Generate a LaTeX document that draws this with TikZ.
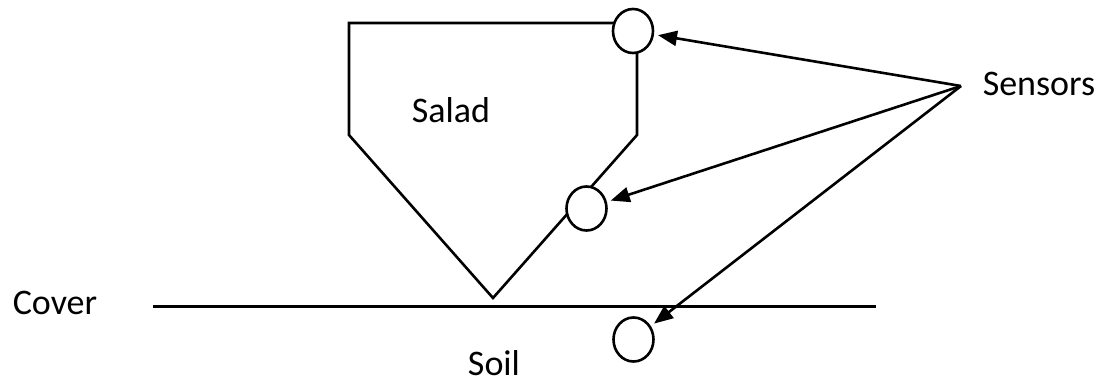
\documentclass[tikz,border=0pt]{standalone}
\usepackage{fontspec}
\setmainfont{Carlito}
\usetikzlibrary{arrows.meta,shapes.geometric}
\begin{document}
\begin{tikzpicture}[x=1pt,y=-1pt,
  line/.style={line width=2.6pt},
  sensor/.style={ellipse,draw,line width=2.6pt,fill=white,minimum width=40pt,minimum height=44pt,inner sep=0pt},
  label/.style={font=\fontsize{36}{40}\selectfont,inner sep=0pt},
  pointer/.style={line width=2.6pt,-{Triangle[length=19pt,width=15pt]},shorten >=4pt}]
\useasboundingbox (0,0) rectangle (1106,385);
% salad body
\draw[line,line join=miter] (349,135) -- (349,23) -- (637,23) -- (637,135) -- (493,298) -- cycle;
% cover line
\coordinate (cl) at (153,306.5);
\coordinate (cr) at (876,306.5);
\draw[line] (cl) -- (cr);
% sensors
\node[sensor] (s1) at (633,31) {};
\node[sensor] (s2) at (586.5,208.5) {};
\node[sensor] (s3) at (633.5,339.5) {};
% labels
\node[label] (salad) at (451,110) {Salad};
\node[label] (cover) at (55,303) {Cover};
\node[label] (soil) at (494,363) {Soil};
\node[label] (sensors) at (1039,84) {Sensors};
% arrows
\coordinate (hub) at (961,86);
\draw[pointer] (hub) -- (s1);
\draw[pointer] (hub) -- (s2);
\draw[pointer] (hub) -- (s3);
\end{tikzpicture}
\end{document}
